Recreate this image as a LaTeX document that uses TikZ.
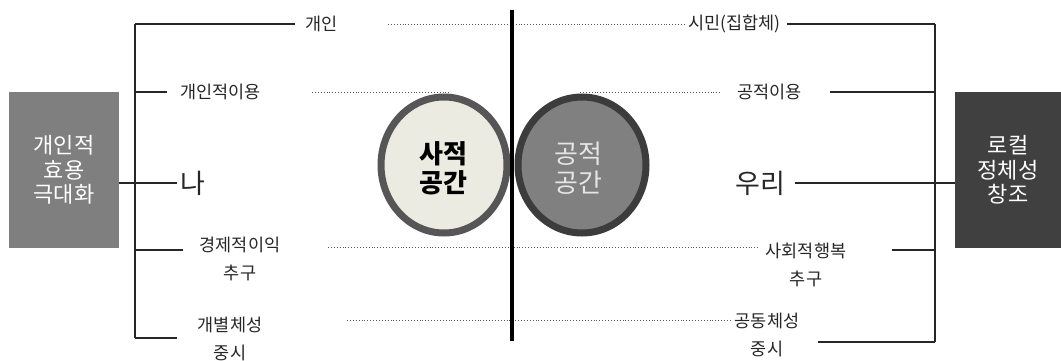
\documentclass[tikz,border=0pt]{standalone}
\usepackage{fontspec}
\setmainfont{Noto Sans CJK KR}
\definecolor{lboxc}{HTML}{7F7F7F}
\definecolor{rboxc}{HTML}{404040}
\definecolor{lcirc}{HTML}{ECEBE1}
\definecolor{lcircb}{HTML}{565656}
\definecolor{rcirc}{HTML}{808080}
\definecolor{rcircb}{HTML}{3C3C3C}
\definecolor{txt}{HTML}{262626}
\begin{document}
\begin{tikzpicture}[x=1pt,y=-1pt,
  lbl/.style={font=\fontsize{17.5}{28}\selectfont, text=txt, inner sep=0pt, align=center},
  big/.style={font=\fontsize{27}{30}\selectfont, text=txt, inner sep=0pt},
  sidebox/.style={text=white, font=\fontsize{22}{24.5}\selectfont, align=center, inner sep=0pt, minimum height=156pt},
  conn/.style={draw=txt, line width=1.3pt},
  dots/.style={draw=black!65, dotted, line width=0.9pt},
  circtext/.style={font=\fontsize{26}{29}\selectfont, align=center, inner sep=0pt}]
\useasboundingbox (0,0) rectangle (1061,361);
% side boxes
\node[sidebox, fill=lboxc, minimum width=110pt] (lb) at (64,170) {개인적\\효용\\극대화};
\node[sidebox, fill=rboxc, minimum width=106pt] (rb) at (1008,170) {로컬\\정체성\\창조};
% circles
\draw[line width=7pt, draw=lcircb, fill=lcirc] (444,165) ellipse [x radius=63, y radius=68];
\draw[line width=7pt, draw=rcircb, fill=rcirc] (582,165) ellipse [x radius=64, y radius=68];
\node[circtext, font=\fontsize{26}{29}\selectfont\bfseries, text=black] (priv) at (443,168) {사적\\공간};
\node[circtext, text=white!90!black] (pub) at (578,168) {공적\\공간};
% center line
\coordinate (ct) at (512,10);
\coordinate (cb) at (512,341);
% left labels
\node[lbl, anchor=west] (gaein) at (305,24) {개인};
\node[lbl, anchor=west] (gaeinjeok) at (180,92) {개인적이용};
\node[big, anchor=west] (na) at (180,183) {나};
\node[lbl] (econ) at (240,259) {경제적이익\\추구};
\node[lbl] (indiv) at (230,339) {개별체성\\중시};
% right labels
\node[lbl, anchor=west] (simin) at (688,24) {시민(집합체)};
\node[lbl, anchor=west] (gongjeok) at (737,92) {공적이용};
\node[big, anchor=west] (uri) at (735,183) {우리};
\node[lbl] (social) at (806,265) {사회적행복\\추구};
\node[lbl] (commu) at (767,335) {공동체성\\중시};
% left bracket
\coordinate (Lt) at (135,24);
\coordinate (L2) at (135,92);
\coordinate (L4) at (135,250);
\coordinate (Lb) at (135,338);
\draw[conn] (Lt) -- (Lb);
\draw[conn] (Lt) -- ([xshift=-10pt]gaein.west);
\draw[conn] (L2) -- ([xshift=-13pt]gaeinjeok.west);
\draw[conn] (lb.east |- na.center) -- ([xshift=-3pt]na.west);
\draw[conn] (L4) -- (183,250);
\draw[conn] (Lb) -- (177,338);
% right bracket
\coordinate (Rt) at (935,24);
\coordinate (R2) at (935,92);
\coordinate (R4) at (935,250);
\coordinate (Rb) at (935,342);
\draw[conn] (Rt) -- (Rb);
\draw[conn] ([xshift=6pt]simin.east) -- (Rt);
\draw[conn] (830,92) -- (R2);
\draw[conn] ([xshift=10pt]uri.east) -- (rb.west |- uri.center);
\draw[conn] (892,250) -- (R4);
\draw[conn] (818,342) -- (Rb);
% dotted
\draw[dots] (388,24) -- ([xshift=-3pt]simin.west);
\draw[dots] (312,92) -- (450,92);
\draw[dots] (580,92) -- ([xshift=-17pt]gongjeok.west);
\draw[dots] (328,247) -- (760,247);
\draw[dots] (347,320) -- (730,320);
% thick center line
\draw[line width=4.5pt, black] (ct) -- (cb);
\end{tikzpicture}
\end{document}
